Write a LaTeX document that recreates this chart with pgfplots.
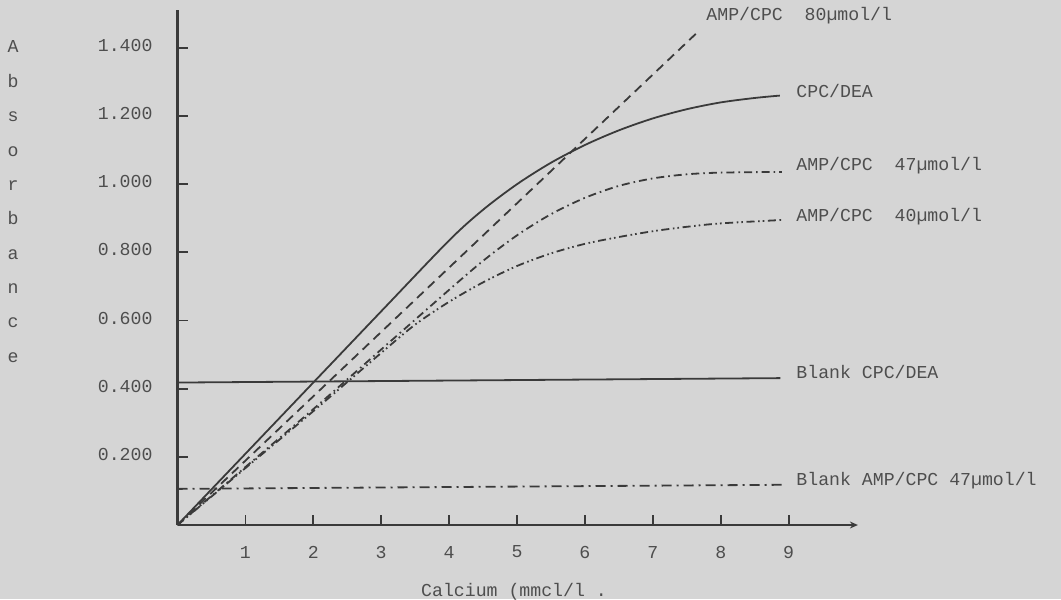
\documentclass[border=0pt]{standalone}
\usepackage{pgfplots}
\pgfplotsset{compat=1.18}
\usepackage{pgfplotstable}
\usetikzlibrary{arrows.meta}
\usepackage{fontspec}
\setmainfont{Liberation Mono}
\definecolor{bg}{HTML}{D5D5D5}
\definecolor{ink}{HTML}{3A3A3A}
\definecolor{txt}{HTML}{4E4E4E}
\newcommand{\tw}{\fontsize{9.1bp}{11bp}\selectfont}

\pgfplotstableread{
x y
0 0
1 0.209
2 0.418
3 0.627
4 0.835
4.5 0.925
5 1.0
5.5 1.063
6 1.115
6.5 1.158
7 1.193
7.5 1.22
8 1.24
8.5 1.253
8.87 1.26
}\cpcdea

\pgfplotstableread{
x y
0 0
7.68 1.45
}\ampeighty

\pgfplotstableread{
x y
0 0
1 0.17
2 0.34
3 0.515
4 0.69
4.5 0.775
5 0.85
5.5 0.912
6 0.96
6.5 0.995
7 1.017
7.5 1.029
8 1.034
8.9 1.036
}\ampfortyseven

\pgfplotstableread{
x y
0 0
1 0.167
2 0.334
3 0.505
3.5 0.588
4 0.655
4.5 0.712
5 0.76
5.5 0.797
6 0.825
6.5 0.845
7 0.862
7.5 0.875
8 0.885
8.9 0.895
}\ampforty

\pgfplotstableread{
x y
0 0.418
8.88 0.431
}\blankcpc

\pgfplotstableread{
x y
0 0.106
8.9 0.118
}\blankamp

\begin{document}
\begin{tikzpicture}[x=1bp,y=1bp]
\useasboundingbox[fill=bg] (0,0) rectangle (530.5,299.5);
\begin{axis}[
  anchor=origin, at={(88.75bp,37bp)},
  x=33.95bp, y=170.4bp,
  xmin=0, xmax=10.02, ymin=0, ymax=1.511,
  axis x line=bottom, axis y line=left,
  x axis line style={ink, line width=1.3bp, -{Stealth[length=4bp,width=3.5bp]}},
  y axis line style={ink, line width=1.4bp, -},
  tick style={ink, line width=0.9bp},
  major tick length=5bp,
  tick align=inside,
  xtick={1,2,3,4,5,6,7,8,9},
  xticklabels={1,2,3,4,5,6,7,8,9},
  ytick={0.2,0.4,0.6,0.8,1.0,1.2,1.4},
  yticklabels={0.200,0.400,0.600,0.800,1.000,1.200,1.400},
  xticklabel style={font=\tw, text=txt, anchor=center, inner sep=0pt, yshift=-13.5bp},
  yticklabel style={font=\tw, text=txt, anchor=east, inner sep=0pt, xshift=-12.3bp, yshift=1.2bp},
  xlabel={Calcium (mmcl/l .},
  ylabel={A\\b\\s\\o\\r\\b\\a\\n\\c\\e},
  every axis x label/.style={at={(axis description cs:0.4946,-0.130)}, anchor=center, font=\tw, text=txt},
  every axis y label/.style={at={(axis description cs:-0.2418,0.628)}, anchor=center, align=center, font=\fontsize{9.1bp}{17.17bp}\selectfont, text=txt},
  clip=false,
]
\addplot[ink, line width=0.9bp, no markers, smooth, tension=0.5, solid] table[x=x,y=y] {\cpcdea};
\addplot[ink, line width=0.9bp, no markers, dash pattern=on 4.5bp off 3bp] table[x=x,y=y] {\ampeighty};
\addplot[ink, line width=0.9bp, no markers, smooth, tension=0.5, dash pattern=on 4bp off 2bp on 0.8bp off 2bp] table[x=x,y=y] {\ampfortyseven};
\addplot[ink, line width=0.9bp, no markers, smooth, tension=0.5, dash pattern=on 4bp off 1.8bp on 0.8bp off 1.5bp on 0.8bp off 1.8bp] table[x=x,y=y] {\ampforty};
\addplot[ink, line width=0.9bp, no markers, solid] table[x=x,y=y] {\blankcpc};
\addplot[ink, line width=0.9bp, no markers, dash pattern=on 5bp off 2.5bp on 1bp off 2.5bp] table[x=x,y=y] {\blankamp};
\end{axis}
\begin{scope}[every node/.style={font=\tw, text=txt, inner sep=0pt, anchor=mid west}]
\node at (353,292) {AMP/CPC\ \ 80µmol/l};
\node at (398,253.5) {CPC/DEA};
\node at (398,217) {AMP/CPC\ \ 47µmol/l};
\node at (398,191.5) {AMP/CPC\ \ 40µmol/l};
\node at (398,113) {Blank CPC/DEA};
\node at (398,59.5) {Blank AMP/CPC 47µmol/l};
\end{scope}
\end{tikzpicture}
\end{document}
